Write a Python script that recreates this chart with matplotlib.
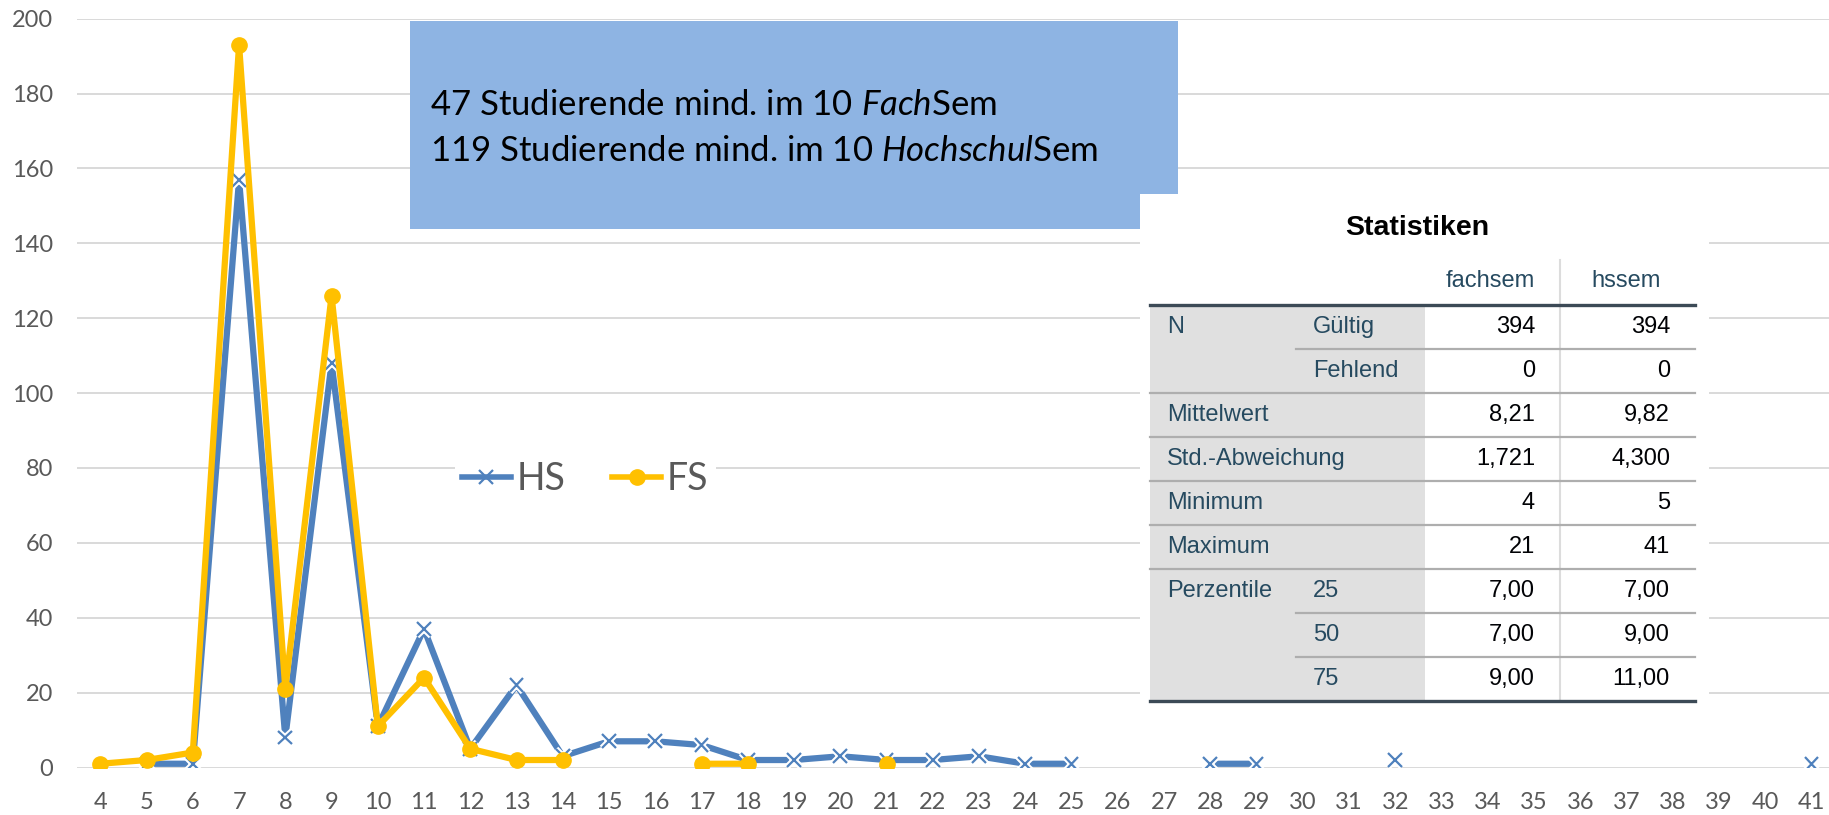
import numpy as np
import matplotlib
matplotlib.use("Agg")
import matplotlib.pyplot as plt
import matplotlib.patheffects as pe
from matplotlib.lines import Line2D
from matplotlib.patches import Rectangle

nan = np.nan

# Semester (category axis) and counts per semester
semesters = list(range(4, 42))
hs = [nan, 1, 1, 157, 8, 108, 11, 37, 5, 22, 3, 7, 7, 6, 2, 2, 3, 2, 2, 3, 1, 1,
      nan, nan, 1, 1, nan, nan, 2, nan, nan, nan, nan, nan, nan, nan, nan, 1]
fs = [1, 2, 4, 193, 21, 126, 11, 24, 5, 2, 2, nan, nan, 1, 1, nan, nan, 1,
      nan, nan, nan, nan, nan, nan, nan, nan, nan, nan, nan, nan, nan, nan, nan,
      nan, nan, nan, nan, nan]
series_names = ["HS", "FS"]

# text box
note_lines = [r"47 Studierende mind. im 10 $\mathit{Fach}$Sem",
              r"119 Studierende mind. im 10 $\mathit{Hochschul}$Sem"]

# SPSS statistics table
table_title = "Statistiken"
col_headers = ["fachsem", "hssem"]
row_labels = ["N", "", "Mittelwert", "Std.-Abweichung", "Minimum", "Maximum",
              "Perzentile", "", ""]
sub_labels = ["Gültig", "Fehlend", "", "", "", "", "25", "50", "75"]
fachsem_vals = ["394", "0", "8,21", "1,721", "4", "21", "7,00", "7,00", "9,00"]
hssem_vals = ["394", "0", "9,82", "4,300", "5", "41", "7,00", "9,00", "11,00"]
partial_line_after = [0, 6, 7]

BLUE = "#4F81BD"
YELLOW = "#FFC000"
GRID = "#D9D9D9"
TXT = "#595959"

plt.rcParams["mathtext.fontset"] = "custom"
plt.rcParams["mathtext.rm"] = "Lato"
plt.rcParams["mathtext.it"] = "Lato:italic"

W, H = 1829, 815
fig = plt.figure(figsize=(W / 100, H / 100), dpi=100)
ax = fig.add_axes([77.2 / W, 47.5 / H, 1757.4 / W, 748.8 / H])

# lines
ax.plot(semesters, hs, color=BLUE, lw=4.5, zorder=3)
ax.plot(semesters, hs, ls="none", marker="x", ms=10, mew=1.6, color=BLUE, zorder=4,
        path_effects=[pe.Stroke(linewidth=4.5, foreground="white"), pe.Normal()])
ax.plot(semesters, fs, color=YELLOW, lw=4.5, marker="o", ms=11, zorder=5)

ax.set_xlim(3.5, 41.5)
ax.set_ylim(0, 200)
ax.set_xticks(semesters)
ax.set_yticks(range(0, 201, 20))
ax.yaxis.grid(True, color=GRID, lw=1.4)
ax.set_axisbelow(True)
for s in ax.spines.values():
    s.set_visible(False)
ax.tick_params(length=0, labelcolor=TXT, labelsize=17)
ax.tick_params(axis="x", pad=17.5)
ax.tick_params(axis="y", pad=17.2)
for lab in ax.get_xticklabels() + ax.get_yticklabels():
    lab.set_family("Lato")

handles = [Line2D([], [], color=BLUE, lw=4, marker="x", ms=10, mew=1.6),
           Line2D([], [], color=YELLOW, lw=4, marker="o", ms=11)]
leg = ax.legend(handles, series_names, loc="center", bbox_to_anchor=(0.289, 0.385),
                ncol=2, frameon=True, facecolor="white", edgecolor="none",
                framealpha=1, handlelength=1.3, handletextpad=0.15,
                columnspacing=1.25, borderpad=0.2,
                prop={"family": "Lato", "size": 27})
for t in leg.get_texts():
    t.set_color(TXT)

# overlay in pixel coordinates (origin top-left)
ov = fig.add_axes([0, 0, 1, 1])
ov.set_xlim(0, W)
ov.set_ylim(H, 0)
ov.axis("off")

ov.add_patch(Rectangle((409.5, 21), 1178 - 409.5, 228.6 - 21, fc="#8EB4E3", ec="none"))
ov.text(429.6, 115, note_lines[0], family="Lato", fontsize=25, va="baseline")
ov.text(429.6, 161, note_lines[1], family="Lato", fontsize=25, va="baseline")

# table image
ov.add_patch(Rectangle((1140, 193.6), 569, 525, fc="white", ec="none"))
LBL = "#264A60"
VAL = "#010205"
tfont = "Liberation Sans"
tl, tr, gray_r = 1150, 1695, 1425
top_line = 305
rh = 44
nrows = len(row_labels)
ov.add_patch(Rectangle((tl, top_line), gray_r - tl, rh * nrows, fc="#E0E0E0", ec="none"))
ov.plot([1560, 1560], [260, top_line + rh * nrows], color="#DCDCDC", lw=1.5)
ov.text(1417, 228, table_title, ha="center", va="center", weight="bold",
        size=20.5, family=tfont, color="black")
ov.text(1535, 281, col_headers[0], ha="right", va="center", size=17, family=tfont, color=LBL)
ov.text(1661, 281, col_headers[1], ha="right", va="center", size=17, family=tfont, color=LBL)
ov.plot([tl, tr], [top_line, top_line], color="#3C4A56", lw=2.4)
for i in range(nrows):
    yc = top_line + rh * i + rh / 2
    ov.text(1167, yc, row_labels[i], va="center", size=17, family=tfont, color=LBL)
    ov.text(1313, yc, sub_labels[i], va="center", size=17, family=tfont, color=LBL)
    ov.text(1535, yc, fachsem_vals[i], ha="right", va="center", size=17, family=tfont, color=VAL)
    ov.text(1670, yc, hssem_vals[i], ha="right", va="center", size=17, family=tfont, color=VAL)
    yl = top_line + rh * (i + 1)
    if i == nrows - 1:
        ov.plot([tl, tr], [yl, yl], color="#3C4A56", lw=2.4)
    elif i in partial_line_after:
        ov.plot([1296, tr], [yl, yl], color="#AEAEAE", lw=1.6)
    else:
        ov.plot([tl, tr], [yl, yl], color="#AEAEAE", lw=1.6)

fig.savefig("out.png", dpi=100)
